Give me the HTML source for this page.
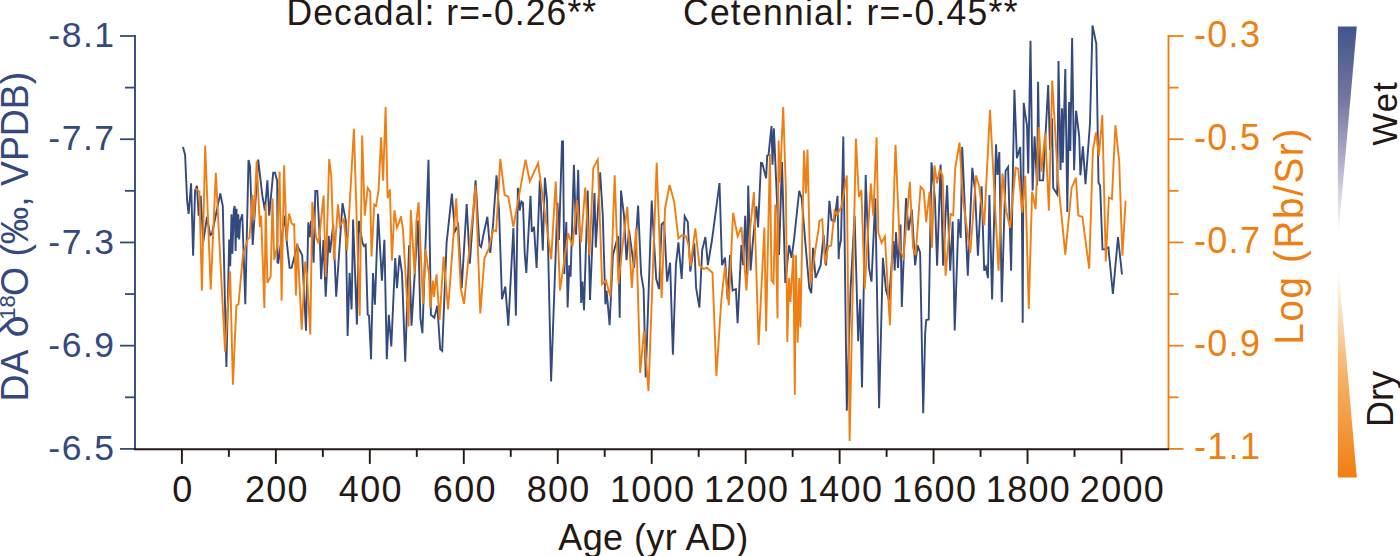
<!DOCTYPE html>
<html><head><meta charset="utf-8"><style>
html,body{margin:0;padding:0;background:#fff;}
svg{display:block;font-family:"Liberation Sans", sans-serif;}
</style></head><body>
<svg width="1400" height="556" viewBox="0 0 1400 556">
<defs>
<linearGradient id="gw" x1="0" y1="0" x2="0" y2="1"><stop offset="0" stop-color="#42558a"/><stop offset="0.35" stop-color="#74779f"/><stop offset="0.64" stop-color="#afadc8"/><stop offset="1" stop-color="#ffffff"/></linearGradient>
<linearGradient id="gd" x1="0" y1="0" x2="0" y2="1"><stop offset="0" stop-color="#ffffff"/><stop offset="0.5" stop-color="#f6b36a"/><stop offset="1" stop-color="#ef7f12"/></linearGradient>
</defs>
<polygon points="1337.9,26.5 1356.8,26.5 1338.5,234 1337.9,234" fill="url(#gw)"/>
<polygon points="1337.9,268 1338.5,268 1356.8,477.4 1337.9,477.4" fill="url(#gd)"/>
<polyline fill="none" stroke="#34497d" stroke-width="1.9" stroke-linejoin="miter" points="183.0,147.0 185.1,155.0 187.1,200.5 188.6,214.0 191.1,183.3 193.1,255.7 195.1,190.4 196.9,185.8 198.7,215.6 200.7,195.9 203.2,242.0 207.0,216.8 210.2,235.2 212.0,233.7 220.3,193.4 222.8,206.0 226.4,367.0 229.2,239.4 230.2,266.3 231.5,214.2 232.4,253.7 233.8,209.7 234.7,206.1 235.6,251.0 236.5,208.8 237.4,237.6 238.3,214.2 239.2,239.4 240.1,221.4 242.3,214.2 245.3,304.2 248.5,160.0 250.0,166.0 252.7,245.0 258.2,159.6 262.3,195.4 264.9,210.5 267.4,180.3 269.2,215.6 273.2,172.7 275.0,172.7 277.2,181.0 277.5,262.6 278.3,262.8 284.6,215.7 287.1,245.2 289.6,267.9 291.6,267.9 297.2,245.2 302.2,255.3 306.0,330.8 308.3,222.3 309.8,237.3 311.0,220.8 313.6,262.8 315.3,191.0 317.3,191.0 319.9,241.0 321.1,279.2 323.5,240.0 325.7,296.8 328.7,235.9 330.0,252.7 333.2,224.5 336.2,296.8 342.5,203.1 345.8,220.8 347.6,335.9 349.6,272.9 351.6,309.4 353.1,219.5 356.9,324.5 358.9,221.0 362.5,243.0 364.0,246.0 365.7,244.7 367.7,314.5 369.0,315.7 370.7,351.0 371.0,359.2 373.0,273.0 374.9,304.8 378.1,213.9 381.9,280.6 384.4,239.8 386.8,359.2 388.8,314.7 391.3,346.4 395.2,258.0 397.0,288.2 399.5,255.4 402.0,273.0 405.2,361.6 409.1,245.3 411.5,325.6 414.6,275.6 417.9,220.5 420.4,318.4 422.4,333.1 428.5,159.7 430.9,314.7 434.3,317.7 437.3,305.8 440.2,349.0 442.2,350.9 446.6,242.8 451.9,193.7 454.9,231.5 458.2,225.2 461.7,288.2 466.7,204.0 469.8,263.6 475.6,180.2 479.4,245.2 481.1,247.0 484.0,232.0 487.4,216.8 490.2,253.0 493.0,225.0 496.5,175.2 499.0,210.0 502.0,299.2 505.3,286.6 508.3,325.6 513.4,228.0 515.9,315.6 517.9,187.8 519.7,210.5 521.4,201.6 523.0,202.9 524.7,253.3 526.3,273.0 530.5,195.8 531.8,231.9 534.0,226.8 536.6,268.0 539.8,180.2 542.8,250.5 544.9,177.7 547.0,200.0 551.1,381.5 557.5,202.9 559.0,240.0 562.0,141.6 563.0,141.4 564.3,274.1 566.3,222.0 567.6,307.5 569.3,265.3 570.6,276.6 573.9,164.8 576.1,234.6 578.2,169.9 581.2,303.0 582.4,281.6 584.0,310.1 587.7,190.5 590.0,300.0 594.5,193.0 595.8,247.4 600.1,172.4 602.8,215.7 605.4,304.3 606.6,290.5 609.6,325.2 612.9,255.2 618.0,235.9 619.7,317.7 621.0,190.5 624.0,215.7 626.5,260.2 629.0,230.0 634.1,267.8 638.1,205.6 641.1,274.1 643.6,289.2 645.7,377.4 651.7,200.6 656.2,279.1 659.1,289.1 661.6,224.5 664.1,222.0 667.1,281.6 670.1,262.7 672.9,354.6 675.9,265.2 678.4,242.4 681.7,279.0 684.7,216.2 687.8,222.0 690.3,271.5 694.3,243.4 696.1,287.9 699.4,307.5 702.2,250.0 705.4,237.1 707.9,265.2 712.0,240.0 719.5,183.0 722.0,265.2 725.0,257.6 727.6,299.2 730.0,255.0 732.6,290.4 735.9,289.1 737.6,323.1 741.4,245.0 743.2,265.2 745.2,215.7 747.2,275.3 748.2,185.5 750.6,270.5 753.0,240.0 756.4,206.4 758.1,227.5 761.0,162.8 762.2,163.0 766.1,178.2 767.2,155.6 768.5,155.0 771.5,126.0 772.5,164.7 773.9,128.4 777.5,213.0 779.0,255.0 782.0,162.0 785.3,283.0 789.1,245.3 791.6,257.9 794.0,240.0 799.2,190.8 801.7,198.3 806.0,250.3 809.3,288.1 811.3,293.1 813.0,247.8 815.6,278.0 820.6,265.4 823.6,235.2 826.1,265.4 829.4,200.8 831.5,220.0 834.5,221.3 837.5,195.8 838.7,259.1 839.0,250.0 841.0,240.0 843.3,136.4 846.8,410.8 850.6,288.0 854.6,215.8 858.2,341.3 860.2,299.3 862.0,387.6 865.7,175.0 869.0,267.9 871.5,281.7 875.3,198.2 879.1,408.2 882.9,257.8 886.0,290.0 889.0,300.0 893.4,241.0 894.7,270.4 896.0,232.4 898.0,267.9 900.5,224.6 901.8,306.9 906.0,198.2 908.6,230.4 911.8,209.5 915.1,265.3 917.6,245.2 920.1,252.7 923.2,413.3 925.2,332.7 926.2,320.0 928.7,319.5 931.5,162.4 935.0,200.2 937.1,265.6 940.6,164.5 943.1,265.6 947.1,185.2 950.2,270.7 952.7,221.6 954.7,330.4 958.5,219.0 960.7,237.9 962.2,146.9 967.8,275.7 972.3,167.8 975.0,190.0 977.9,255.6 981.6,186.3 984.2,270.7 985.9,266.9 987.9,278.2 989.4,195.1 992.1,299.6 996.0,144.4 997.5,175.0 999.3,152.0 1001.8,302.2 1005.6,170.8 1008.1,167.0 1011.1,270.7 1014.4,89.7 1016.9,158.2 1020.2,146.9 1021.9,212.7 1022.7,322.8 1023.7,102.8 1026.2,120.5 1027.0,125.5 1028.2,173.4 1030.5,40.7 1032.6,190.5 1034.6,136.4 1037.1,185.4 1038.1,81.7 1039.6,180.4 1043.1,180.4 1048.2,85.0 1050.0,150.0 1052.0,118.2 1053.2,188.0 1057.2,194.2 1058.5,61.1 1060.5,170.0 1062.0,108.2 1062.8,162.7 1065.3,69.1 1067.3,211.9 1069.1,101.9 1070.3,151.0 1072.1,38.1 1074.1,170.3 1076.1,110.7 1079.2,136.4 1080.4,175.3 1082.9,146.4 1085.5,184.2 1090.0,123.3 1092.5,25.5 1096.3,43.9 1098.5,182.7 1100.1,185.5 1102.5,249.4 1105.0,249.4 1108.4,247.5 1112.9,294.0 1118.0,237.0 1122.0,274.5"/>
<polyline fill="none" stroke="#ef7f12" stroke-width="1.9" stroke-linejoin="miter" points="195.1,188.4 199.4,191.6 201.9,290.8 205.2,145.5 210.7,289.5 215.8,172.7 225.1,352.0 230.1,271.4 232.9,384.8 236.4,305.4 238.5,304.2 243.0,254.5 247.7,239.4 249.5,237.6 252.6,194.9 254.0,220.0 256.7,160.7 259.9,226.9 261.1,215.6 264.4,308.0 265.7,204.2 267.4,282.7 270.7,276.4 272.5,198.4 274.2,260.0 277.0,247.0 279.6,171.6 281.6,300.6 284.1,165.3 286.6,240.9 289.1,213.7 291.6,223.3 293.4,225.0 294.2,224.5 295.9,295.6 297.5,243.6 301.7,329.6 305.2,261.6 307.0,275.0 310.3,334.6 312.3,201.9 316.1,237.5 318.6,243.4 323.6,195.6 325.7,276.7 329.2,159.0 331.2,175.4 334.0,260.0 338.0,204.4 340.0,225.8 343.8,219.5 347.1,250.2 353.9,128.8 359.7,315.7 362.2,135.6 364.7,215.7 367.7,188.0 370.2,191.8 371.5,256.5 374.3,204.5 376.1,205.8 378.6,189.4 381.1,137.3 383.1,180.6 385.6,107.0 387.6,198.2 389.9,189.4 391.9,260.5 394.4,210.2 397.0,227.7 398.7,223.4 401.0,216.4 403.0,230.0 408.6,326.6 410.8,210.1 414.6,274.3 416.4,221.0 418.6,202.3 423.0,303.8 425.4,249.1 429.0,274.3 430.3,307.8 433.0,280.6 434.0,297.0 436.5,274.3 439.6,319.7 443.6,256.7 448.1,309.4 456.2,198.2 460.7,288.2 464.0,303.8 475.6,185.3 480.3,313.5 484.4,258.6 489.0,248.0 493.2,230.1 496.2,231.1 500.3,158.8 504.6,194.8 508.3,196.6 513.4,226.8 525.5,159.6 529.8,181.5 538.1,163.1 551.2,259.3 555.7,181.5 560.0,290.4 568.1,233.4 572.6,246.2 576.9,200.1 581.0,242.5 585.2,187.5 589.5,255.2 593.3,167.9 597.8,159.5 602.1,284.2 605.9,280.4 610.4,296.8 614.7,175.4 618.5,284.2 622.0,250.0 627.3,206.9 631.8,287.9 636.1,228.3 640.2,372.9 643.9,331.3 648.5,391.3 656.7,162.8 661.6,297.9 665.1,208.2 669.6,185.0 674.2,201.9 678.4,238.4 681.7,235.4 686.0,236.4 688.5,245.0 690.5,266.4 695.3,228.3 699.4,265.2 703.6,269.0 706.9,267.7 712.5,272.7 716.4,376.0 721.3,300.5 725.0,266.4 728.8,305.5 733.1,212.7 737.6,236.4 741.4,227.1 746.5,290.4 750.0,230.0 753.9,192.0 758.6,345.0 764.4,227.6 766.1,331.3 769.9,154.1 771.5,280.5 773.5,283.0 775.3,204.6 777.5,318.3 778.6,140.5 779.9,182.7 783.2,107.0 785.9,190.0 787.3,342.0 789.1,278.0 790.4,301.9 793.4,254.1 794.8,394.7 795.9,255.3 797.7,342.8 799.2,278.0 800.4,327.5 804.0,150.6 805.9,193.5 807.5,149.6 810.5,284.3 815.6,247.8 818.8,227.6 819.3,221.0 822.2,219.3 825.1,264.2 828.2,246.5 831.2,245.3 834.5,210.9 837.0,215.0 841.3,207.0 846.8,175.5 849.6,441.0 855.9,138.5 858.9,196.9 861.4,190.1 864.7,289.3 870.8,183.6 873.3,215.8 876.6,137.2 878.3,232.6 881.6,242.7 884.9,236.4 889.9,325.1 895.5,144.8 900.0,250.2 903.5,257.8 909.8,181.8 913.1,247.7 915.6,255.3 920.6,186.8 923.7,190.1 926.2,222.1 929.5,191.9 932.0,247.7 934.5,165.4 937.1,183.4 939.6,169.6 942.6,175.4 945.6,275.7 950.7,214.0 953.2,215.3 955.2,168.3 959.5,142.6 963.0,200.0 970.3,253.0 976.1,175.4 979.1,186.0 984.2,225.3 990.0,109.9 998.5,270.7 1002.5,173.4 1006.0,210.0 1010.1,227.9 1015.6,167.8 1018.2,168.8 1022.3,212.7 1025.2,175.9 1028.8,309.0 1032.1,191.7 1035.6,209.3 1038.9,127.1 1041.4,171.6 1045.2,132.8 1048.9,210.6 1052.2,80.5 1058.0,180.0 1065.3,254.7 1071.6,187.9 1075.9,177.9 1078.4,215.6 1082.4,216.9 1089.2,268.7 1092.9,150.4 1096.0,132.3 1098.9,156.0 1102.3,115.1 1105.8,261.5 1108.9,197.5 1111.9,199.0 1115.4,125.2 1119.2,161.2 1122.4,255.7 1125.6,200.7"/>
<line x1="135" y1="35.0" x2="135" y2="449.9" stroke="#34497d" stroke-width="1.9"/>
<line x1="120" y1="36.00" x2="135" y2="36.00" stroke="#34497d" stroke-width="1.8"/>
<line x1="125" y1="87.61" x2="135" y2="87.61" stroke="#34497d" stroke-width="1.8"/>
<line x1="120" y1="139.22" x2="135" y2="139.22" stroke="#34497d" stroke-width="1.8"/>
<line x1="125" y1="190.84" x2="135" y2="190.84" stroke="#34497d" stroke-width="1.8"/>
<line x1="120" y1="242.45" x2="135" y2="242.45" stroke="#34497d" stroke-width="1.8"/>
<line x1="125" y1="294.06" x2="135" y2="294.06" stroke="#34497d" stroke-width="1.8"/>
<line x1="120" y1="345.67" x2="135" y2="345.67" stroke="#34497d" stroke-width="1.8"/>
<line x1="125" y1="397.29" x2="135" y2="397.29" stroke="#34497d" stroke-width="1.8"/>
<line x1="120" y1="448.90" x2="135" y2="448.90" stroke="#34497d" stroke-width="1.8"/>
<line x1="1168.5" y1="35.0" x2="1168.5" y2="449.9" stroke="#ef7f12" stroke-width="1.9"/>
<line x1="1168.5" y1="36.00" x2="1183.5" y2="36.00" stroke="#ef7f12" stroke-width="1.8"/>
<line x1="1168.5" y1="87.61" x2="1178.5" y2="87.61" stroke="#ef7f12" stroke-width="1.8"/>
<line x1="1168.5" y1="139.22" x2="1183.5" y2="139.22" stroke="#ef7f12" stroke-width="1.8"/>
<line x1="1168.5" y1="190.84" x2="1178.5" y2="190.84" stroke="#ef7f12" stroke-width="1.8"/>
<line x1="1168.5" y1="242.45" x2="1183.5" y2="242.45" stroke="#ef7f12" stroke-width="1.8"/>
<line x1="1168.5" y1="294.06" x2="1178.5" y2="294.06" stroke="#ef7f12" stroke-width="1.8"/>
<line x1="1168.5" y1="345.67" x2="1183.5" y2="345.67" stroke="#ef7f12" stroke-width="1.8"/>
<line x1="1168.5" y1="397.29" x2="1178.5" y2="397.29" stroke="#ef7f12" stroke-width="1.8"/>
<line x1="1168.5" y1="448.90" x2="1183.5" y2="448.90" stroke="#ef7f12" stroke-width="1.8"/>
<line x1="134" y1="449.2" x2="1169" y2="449.2" stroke="#231815" stroke-width="2.1"/>
<line x1="181.90" y1="448.9" x2="181.90" y2="463.9" stroke="#231815" stroke-width="1.9"/>
<line x1="228.88" y1="448.9" x2="228.88" y2="456.9" stroke="#231815" stroke-width="1.9"/>
<line x1="275.86" y1="448.9" x2="275.86" y2="463.9" stroke="#231815" stroke-width="1.9"/>
<line x1="322.84" y1="448.9" x2="322.84" y2="456.9" stroke="#231815" stroke-width="1.9"/>
<line x1="369.82" y1="448.9" x2="369.82" y2="463.9" stroke="#231815" stroke-width="1.9"/>
<line x1="416.80" y1="448.9" x2="416.80" y2="456.9" stroke="#231815" stroke-width="1.9"/>
<line x1="463.78" y1="448.9" x2="463.78" y2="463.9" stroke="#231815" stroke-width="1.9"/>
<line x1="510.76" y1="448.9" x2="510.76" y2="456.9" stroke="#231815" stroke-width="1.9"/>
<line x1="557.74" y1="448.9" x2="557.74" y2="463.9" stroke="#231815" stroke-width="1.9"/>
<line x1="604.72" y1="448.9" x2="604.72" y2="456.9" stroke="#231815" stroke-width="1.9"/>
<line x1="651.70" y1="448.9" x2="651.70" y2="463.9" stroke="#231815" stroke-width="1.9"/>
<line x1="698.68" y1="448.9" x2="698.68" y2="456.9" stroke="#231815" stroke-width="1.9"/>
<line x1="745.66" y1="448.9" x2="745.66" y2="463.9" stroke="#231815" stroke-width="1.9"/>
<line x1="792.64" y1="448.9" x2="792.64" y2="456.9" stroke="#231815" stroke-width="1.9"/>
<line x1="839.62" y1="448.9" x2="839.62" y2="463.9" stroke="#231815" stroke-width="1.9"/>
<line x1="886.60" y1="448.9" x2="886.60" y2="456.9" stroke="#231815" stroke-width="1.9"/>
<line x1="933.58" y1="448.9" x2="933.58" y2="463.9" stroke="#231815" stroke-width="1.9"/>
<line x1="980.56" y1="448.9" x2="980.56" y2="456.9" stroke="#231815" stroke-width="1.9"/>
<line x1="1027.54" y1="448.9" x2="1027.54" y2="463.9" stroke="#231815" stroke-width="1.9"/>
<line x1="1074.52" y1="448.9" x2="1074.52" y2="456.9" stroke="#231815" stroke-width="1.9"/>
<line x1="1121.50" y1="448.9" x2="1121.50" y2="463.9" stroke="#231815" stroke-width="1.9"/>
<text x="115.5" y="47.1" text-anchor="end" fill="#34497d" font-size="35.5" letter-spacing="1.5">-8.1</text>
<text x="115.5" y="150.3" text-anchor="end" fill="#34497d" font-size="35.5" letter-spacing="1.5">-7.7</text>
<text x="115.5" y="253.5" text-anchor="end" fill="#34497d" font-size="35.5" letter-spacing="1.5">-7.3</text>
<text x="115.5" y="356.8" text-anchor="end" fill="#34497d" font-size="35.5" letter-spacing="1.5">-6.9</text>
<text x="115.5" y="460.0" text-anchor="end" fill="#34497d" font-size="35.5" letter-spacing="1.5">-6.5</text>
<text x="1194" y="46.5" fill="#ef7f12" font-size="36" letter-spacing="1.3">-0.3</text>
<text x="1194" y="149.7" fill="#ef7f12" font-size="36" letter-spacing="1.3">-0.5</text>
<text x="1194" y="252.9" fill="#ef7f12" font-size="36" letter-spacing="1.3">-0.7</text>
<text x="1194" y="356.2" fill="#ef7f12" font-size="36" letter-spacing="1.3">-0.9</text>
<text x="1194" y="459.4" fill="#ef7f12" font-size="36" letter-spacing="1.3">-1.1</text>
<text x="182.9" y="501.5" text-anchor="middle" fill="#231815" font-size="36" letter-spacing="1.3">0</text>
<text x="276.9" y="501.5" text-anchor="middle" fill="#231815" font-size="36" letter-spacing="1.3">200</text>
<text x="370.8" y="501.5" text-anchor="middle" fill="#231815" font-size="36" letter-spacing="1.3">400</text>
<text x="464.8" y="501.5" text-anchor="middle" fill="#231815" font-size="36" letter-spacing="1.3">600</text>
<text x="558.7" y="501.5" text-anchor="middle" fill="#231815" font-size="36" letter-spacing="1.3">800</text>
<text x="652.7" y="501.5" text-anchor="middle" fill="#231815" font-size="36" letter-spacing="1.3">1000</text>
<text x="746.7" y="501.5" text-anchor="middle" fill="#231815" font-size="36" letter-spacing="1.3">1200</text>
<text x="840.6" y="501.5" text-anchor="middle" fill="#231815" font-size="36" letter-spacing="1.3">1400</text>
<text x="934.6" y="501.5" text-anchor="middle" fill="#231815" font-size="36" letter-spacing="1.3">1600</text>
<text x="1028.5" y="501.5" text-anchor="middle" fill="#231815" font-size="36" letter-spacing="1.3">1800</text>
<text x="1122.5" y="501.5" text-anchor="middle" fill="#231815" font-size="36" letter-spacing="1.3">2000</text>
<text transform="translate(653.5,549.5) scale(1,1.04)" text-anchor="middle" fill="#231815" font-size="36" letter-spacing="0.4">Age (yr AD)</text>
<text transform="translate(286.5,25.2) scale(1,1.02)" fill="#231815" font-size="35.5" letter-spacing="1.1">Decadal: r=-0.26**</text>
<text transform="translate(683,25.2) scale(1,1.02)" fill="#231815" font-size="35.5" letter-spacing="1.25">Cetennial: r=-0.45**</text>
<text transform="translate(27.8,401.4) rotate(-90) scale(1,1.04)" fill="#34497d" font-size="37.4">DA <tspan font-size="40" dx="3.6">δ</tspan><tspan font-size="22" dy="-12" dx="-4.4">18</tspan><tspan dy="12" dx="-0.9">O (‰, VPDB)</tspan></text>
<text transform="translate(1303,235.9) rotate(-90) scale(1,1.04)" text-anchor="middle" fill="#ef7f12" font-size="38.5" letter-spacing="1.7">Log (Rb/Sr)</text>
<text transform="translate(1396.7,113.2) rotate(-90) scale(1,1.04)" text-anchor="middle" fill="#231815" font-size="34.5" letter-spacing="1.5">Wet</text>
<text transform="translate(1393.2,399) rotate(-90) scale(1,1.04)" text-anchor="middle" fill="#231815" font-size="36">Dry</text>
</svg></body></html>
